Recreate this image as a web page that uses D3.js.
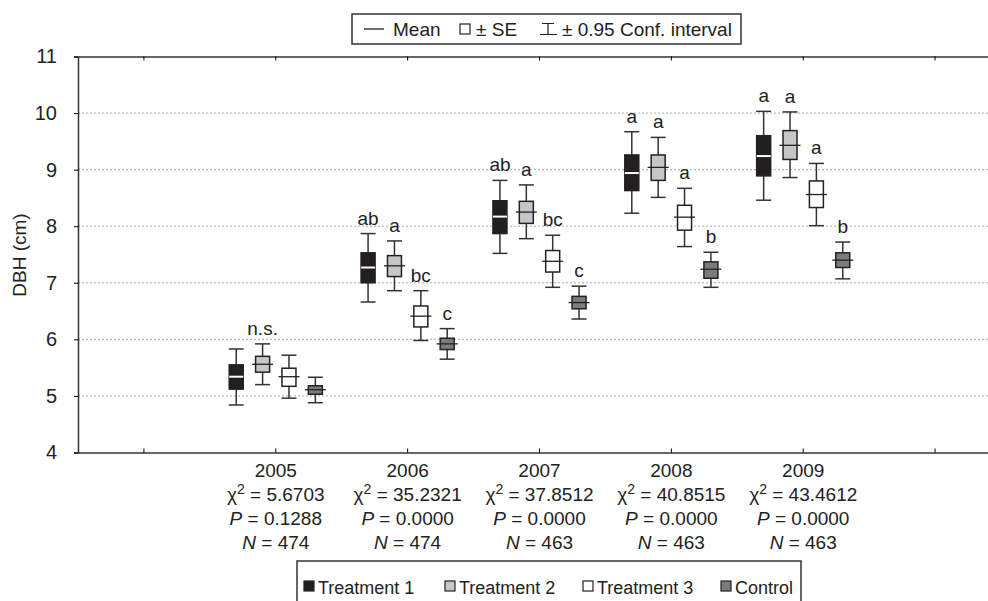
<!DOCTYPE html>
<html>
<head>
<meta charset="utf-8">
<script src="https://cdn.jsdelivr.net/npm/d3@7"></script>
<style>
    body { margin: 0; background: #fff; }
    svg { display: block; font-family: "Liberation Sans", Arial, sans-serif; }
</style>
</head>
<body>
<div id="chart"></div>
<script>
// data
let years = ['2005', '2006', '2007', '2008', '2009'];
let series = ['Treatment 1', 'Treatment 2', 'Treatment 3', 'Control'];
let colors = ['#231f20', '#c6c6c6', '#ffffff', '#7b7b7b'];

// one row per series, one value per year
let means = [
    [5.34, 7.27, 8.17, 8.94, 9.24],
    [5.56, 7.30, 8.25, 9.04, 9.43],
    [5.34, 6.41, 7.38, 8.16, 8.56],
    [5.11, 5.92, 6.65, 7.24, 7.40]
];
let seLow = [
    [5.12, 7.00, 7.87, 8.63, 8.89],
    [5.42, 7.11, 8.05, 8.81, 9.18],
    [5.17, 6.22, 7.19, 7.93, 8.33],
    [5.03, 5.82, 6.54, 7.08, 7.27]
];
let seHigh = [
    [5.55, 7.53, 8.45, 9.26, 9.60],
    [5.70, 7.48, 8.44, 9.26, 9.69],
    [5.49, 6.59, 7.57, 8.37, 8.80],
    [5.18, 6.02, 6.76, 7.37, 7.53]
];
let ciLow = [
    [4.84, 6.66, 7.52, 8.23, 8.46],
    [5.20, 6.86, 7.78, 8.51, 8.86],
    [4.96, 5.98, 6.92, 7.64, 8.01],
    [4.88, 5.65, 6.36, 6.92, 7.07]
];
let ciHigh = [
    [5.83, 7.87, 8.81, 9.67, 10.03],
    [5.92, 7.74, 8.73, 9.57, 10.02],
    [5.72, 6.86, 7.84, 8.67, 9.11],
    [5.33, 6.19, 6.94, 7.54, 7.72]
];
let letters = [
    ['', 'ab', 'ab', 'a', 'a'],
    ['n.s.', 'a', 'a', 'a', 'a'],
    ['', 'bc', 'bc', 'a', 'a'],
    ['', 'c', 'c', 'b', 'b']
];
let chi2 = ['5.6703', '35.2321', '37.8512', '40.8515', '43.4612'];
let pValues = ['0.1288', '0.0000', '0.0000', '0.0000', '0.0000'];
let nValues = [474, 474, 463, 463, 463];
let yTicks = [4, 5, 6, 7, 8, 9, 10, 11];

let margin = { top: 56.5, left: 78 };
let width = 923;
let height = 396;

let svg = d3.select('#chart')
    .append('svg')
    .attr('width', 988)
    .attr('height', 601);

let g = svg.append('g')
    .attr('transform', `translate(${margin.left}, ${margin.top})`);

let yScale = d3.scaleLinear()
    .domain([4, 11])
    .range([height, 0]);

// empty slots on both ends, as in the original
let xScale = d3.scaleBand()
    .domain(['a0'].concat(years, ['a1']))
    .range([0, width]);

let inner = d3.scaleBand()
    .domain(series)
    .range([-xScale.bandwidth() * 0.4, xScale.bandwidth() * 0.4]);

let boxW = 14;

// grid
g.selectAll('.grid')
    .data(yTicks.filter(d => d > 4 && d < 11))
    .enter()
    .append('line')
    .attr('x1', 0)
    .attr('x2', width)
    .attr('y1', d => yScale(d))
    .attr('y2', d => yScale(d))
    .attr('stroke', '#aaa')
    .attr('stroke-width', 1)
    .attr('stroke-dasharray', '2,2');

// axes
let yAxis = d3.axisLeft(yScale)
    .tickValues(yTicks)
    .tickSize(4)
    .tickPadding(17)
    .tickFormat(d3.format('d'));
g.append('g')
    .call(yAxis)
    .call(a => a.select('.domain').attr('stroke', '#333').attr('stroke-width', 1.5))
    .call(a => a.selectAll('text').attr('font-size', 20).attr('fill', '#222').attr('font-family', 'inherit'));

let xAxis = d3.axisBottom(xScale)
    .tickSize(-4)
    .tickSizeOuter(0)
    .tickFormat('');
g.append('g')
    .attr('transform', `translate(0, ${height})`)
    .call(xAxis)
    .call(a => a.select('.domain').attr('stroke', '#333').attr('stroke-width', 1.5));

let topAxis = d3.axisTop(xScale)
    .tickSize(-4)
    .tickSizeOuter(0)
    .tickFormat('');
g.append('g')
    .call(topAxis)
    .call(a => a.select('.domain').attr('stroke', '#333').attr('stroke-width', 1.5));

svg.append('text')
    .attr('transform', `translate(26, 255) rotate(-90)`)
    .attr('text-anchor', 'middle')
    .attr('font-size', 19)
    .attr('fill', '#222')
    .text('DBH (cm)');

// boxes
let cells = [];
series.forEach((s, i) => {
    years.forEach((y, j) => {
        cells.push({ s: s, i: i, year: y, mean: means[i][j], lo: seLow[i][j], hi: seHigh[i][j],
            cLo: ciLow[i][j], cHi: ciHigh[i][j], letter: letters[i][j] });
    });
});

let cx = d => xScale(d.year) + xScale.bandwidth() / 2 + inner(d.s) + inner.bandwidth() / 2;

let box = g.selectAll('.box')
    .data(cells)
    .enter()
    .append('g')
    .attr('transform', d => `translate(${cx(d)}, 0)`);

box.append('line')
    .attr('y1', d => yScale(d.cHi))
    .attr('y2', d => yScale(d.cLo))
    .attr('stroke', '#333')
    .attr('stroke-width', 1.5);

box.selectAll('.cap')
    .data(d => [d.cHi, d.cLo])
    .enter()
    .append('line')
    .attr('x1', -boxW / 2 - 0.5)
    .attr('x2', boxW / 2 + 0.5)
    .attr('y1', d => yScale(d))
    .attr('y2', d => yScale(d))
    .attr('stroke', '#333')
    .attr('stroke-width', 1.5);

box.append('rect')
    .attr('x', -boxW / 2)
    .attr('width', boxW)
    .attr('y', d => yScale(d.hi))
    .attr('height', d => yScale(d.lo) - yScale(d.hi))
    .attr('fill', d => colors[d.i])
    .attr('stroke', '#222')
    .attr('stroke-width', 1.5);

// mean: white gap on the black boxes, black bar on the others
box.append('line')
    .attr('x1', d => d.i == 0 ? -boxW / 2 : -boxW / 2 - 3.5)
    .attr('x2', d => d.i == 0 ? boxW / 2 : boxW / 2 + 3.5)
    .attr('y1', d => yScale(d.mean))
    .attr('y2', d => yScale(d.mean))
    .attr('stroke', d => d.i == 0 ? '#fff' : '#222')
    .attr('stroke-width', d => d.i == 0 ? 2 : 1.3);

box.append('text')
    .attr('y', d => yScale(d.cHi) - 9)
    .attr('text-anchor', 'middle')
    .attr('font-size', 19)
    .attr('fill', '#222')
    .text(d => d.letter);

// stats under the axis
let stats = svg.selectAll('.stats')
    .data(years)
    .enter()
    .append('text')
    .attr('text-anchor', 'middle')
    .attr('font-size', 19)
    .attr('fill', '#222')
    .attr('transform', d => `translate(${margin.left + xScale(d) + xScale.bandwidth() / 2}, 0)`);

stats.append('tspan').attr('x', 0).attr('y', 477).text(d => d);

let chiLine = stats.append('tspan').attr('x', 0).attr('y', 501);
chiLine.append('tspan').text('χ');
chiLine.append('tspan').attr('dy', -7).attr('font-size', 14).text('2');
chiLine.append('tspan').attr('dy', 7).text((d, i) => ' = ' + chi2[i]);

let pLine = stats.append('tspan').attr('x', 0).attr('y', 525);
pLine.append('tspan').attr('font-style', 'italic').text('P');
pLine.append('tspan').text((d, i) => ' = ' + pValues[i]);

let nLine = stats.append('tspan').attr('x', 0).attr('y', 549);
nLine.append('tspan').attr('font-style', 'italic').text('N');
nLine.append('tspan').text((d, i) => ' = ' + nValues[i]);

// top legend
let topLegend = svg.append('g');
topLegend.append('rect')
    .attr('x', 352).attr('y', 14).attr('width', 389).attr('height', 30)
    .attr('fill', '#fff').attr('stroke', '#333').attr('stroke-width', 1.5);
topLegend.append('line')
    .attr('x1', 364).attr('x2', 384).attr('y1', 29).attr('y2', 29)
    .attr('stroke', '#222').attr('stroke-width', 1.3);
topLegend.append('text').attr('x', 393).attr('y', 36).attr('font-size', 19).attr('fill', '#222').text('Mean');
topLegend.append('rect')
    .attr('x', 460).attr('y', 24).attr('width', 10).attr('height', 10)
    .attr('fill', '#fff').attr('stroke', '#222').attr('stroke-width', 1.2);
topLegend.append('text').attr('x', 476).attr('y', 36).attr('font-size', 19).attr('fill', '#222').text('± SE');
topLegend.append('path')
    .attr('d', 'M542,23.5H554M548,23.5V34.5M540,34.5H557')
    .attr('fill', 'none').attr('stroke', '#222').attr('stroke-width', 1.2);
topLegend.append('text').attr('x', 562).attr('y', 36).attr('font-size', 19).attr('fill', '#222').text('± 0.95 Conf. interval');

// bottom legend
let bottomLegend = svg.append('g');
bottomLegend.append('rect')
    .attr('x', 297).attr('y', 561).attr('width', 504).attr('height', 50)
    .attr('fill', '#fff').attr('stroke', '#333').attr('stroke-width', 1.5);
let legendX = [304, 445, 583, 721];
let item = bottomLegend.selectAll('.item')
    .data(series)
    .enter()
    .append('g')
    .attr('transform', (d, i) => `translate(${legendX[i]}, 0)`);
item.append('rect')
    .attr('x', 0).attr('y', 581).attr('width', 10).attr('height', 10)
    .attr('fill', (d, i) => colors[i]).attr('stroke', '#222').attr('stroke-width', 1.2);
item.append('text')
    .attr('x', 14).attr('y', 594)
    .attr('font-size', 18).attr('fill', '#222')
    .text(d => d);
</script>
</body>
</html>
